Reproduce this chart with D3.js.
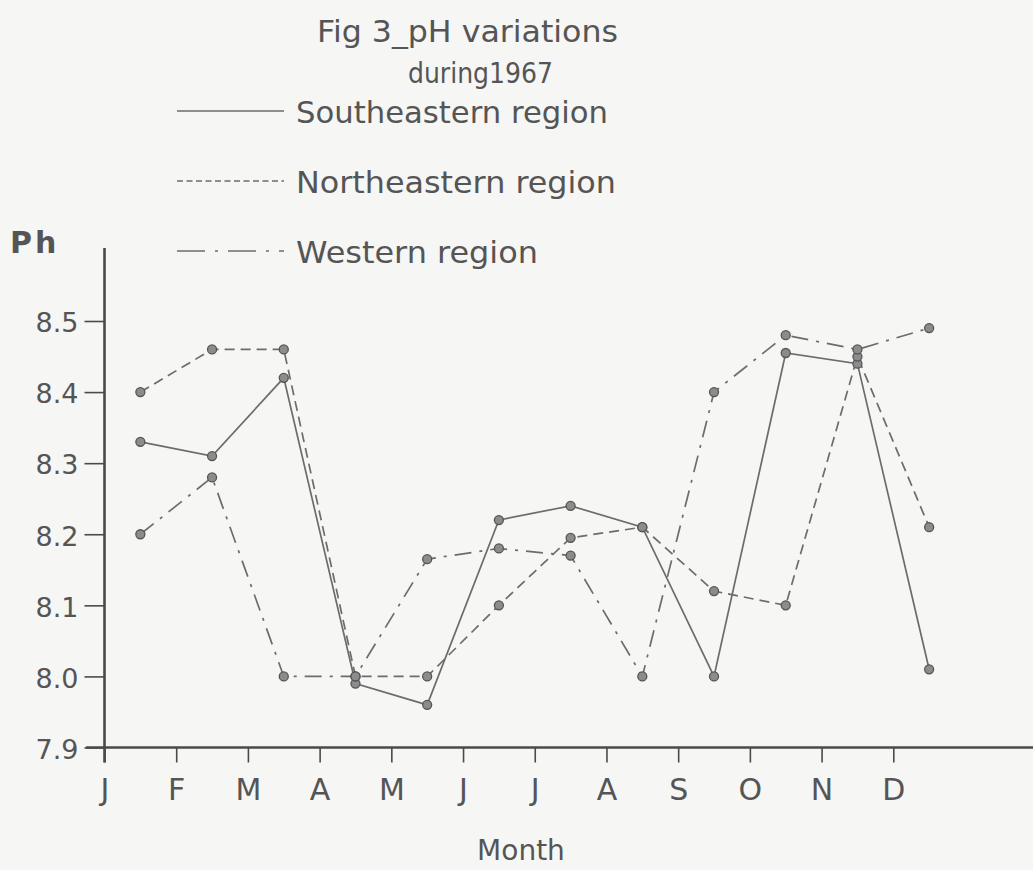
<!DOCTYPE html>
<html>
<head>
<meta charset="utf-8">
<script src="https://cdn.jsdelivr.net/npm/d3@7"></script>
<style>
  html, body { margin: 0; padding: 0; background: #f6f6f4; }
  svg { display: block; }
  text { font-family: "DejaVu Sans", sans-serif; fill: #555; }
</style>
</head>
<body>
<svg id="chart" width="1033" height="870"></svg>
<script>
// Monthly pH readings for 1967, one array per region
const months = ["J", "F", "M", "A", "M", "J", "J", "A", "S", "O", "N", "D"];
const southeastern = [8.33, 8.31, 8.42, 7.99, 7.96, 8.22, 8.24, 8.21, 8.00, 8.455, 8.44, 8.01];
const northeastern = [8.40, 8.46, 8.46, 8.00, 8.00, 8.10, 8.195, 8.21, 8.12, 8.10, 8.45, 8.21];
const western      = [8.20, 8.28, 8.00, 8.00, 8.165, 8.18, 8.17, 8.00, 8.40, 8.48, 8.46, 8.49];
const yTicks = [7.9, 8.0, 8.1, 8.2, 8.3, 8.4, 8.5];

const seriesList = [
  { name: "Southeastern region", values: southeastern, dash: null,          legendDash: null },
  { name: "Northeastern region", values: northeastern, dash: "10,6",        legendDash: "6,3.5" },
  { name: "Western region",      values: western,      dash: "17,8,3,8",    legendDash: "28,10,3,10" }
];

const svg = d3.select("#chart");
const ink = "#4a4a4a";
const lineInk = "#6c6c6c";

// Month index scale: ticks sit on month boundaries, readings at mid-month
const x = d3.scaleLinear().domain([0, 12]).range([104.5, 965]);
const y = d3.scaleLinear().domain([7.9, 8.5]).range([747.5, 321]);

// Title
svg.append("text").attr("x", 317).attr("y", 42)
  .attr("font-size", 30).attr("textLength", 301).attr("lengthAdjust", "spacingAndGlyphs")
  .text("Fig 3_pH variations");
svg.append("text").attr("x", 408).attr("y", 83)
  .attr("font-size", 28).attr("textLength", 145).attr("lengthAdjust", "spacingAndGlyphs")
  .text("during1967");

// Legend
const legendRows = [
  { baseline: 123, width: 312 },
  { baseline: 193, width: 320 },
  { baseline: 263, width: 242 }
];
seriesList.forEach((s, i) => {
  const row = legendRows[i];
  svg.append("line")
    .attr("x1", 177).attr("x2", 284)
    .attr("y1", row.baseline - 12).attr("y2", row.baseline - 12)
    .attr("stroke", lineInk).attr("stroke-width", 1.6)
    .attr("stroke-dasharray", s.legendDash);
  svg.append("text").attr("x", 296).attr("y", row.baseline)
    .attr("font-size", 30).attr("textLength", row.width).attr("lengthAdjust", "spacingAndGlyphs")
    .text(s.name);
});

// Y axis
const yAxis = svg.append("g").attr("transform", `translate(${x(0)},0)`)
  .call(d3.axisLeft(y).tickValues(yTicks).tickSize(20).tickPadding(6).tickFormat(d3.format(".1f")));
yAxis.select(".domain").remove();
yAxis.selectAll(".tick line").attr("stroke", ink).attr("stroke-width", 1.6);
yAxis.selectAll(".tick text")
  .attr("font-size", 27).attr("font-family", "DejaVu Sans, sans-serif")
  .attr("fill", "#4f4f4f").attr("dy", "0.4em");
svg.append("line")
  .attr("x1", x(0)).attr("x2", x(0)).attr("y1", 248).attr("y2", y(7.9) + 15)
  .attr("stroke", ink).attr("stroke-width", 2.6);

// X axis
const xAxis = svg.append("g").attr("transform", `translate(0,${y(7.9)})`)
  .call(d3.axisBottom(x).tickValues(d3.range(12)).tickSize(15).tickFormat(i => months[i]));
xAxis.select(".domain").remove();
xAxis.selectAll(".tick line").attr("stroke", ink).attr("stroke-width", 1.6);
xAxis.selectAll(".tick text")
  .attr("font-size", 30).attr("font-family", "DejaVu Sans, sans-serif")
  .attr("fill", "#555").attr("y", 52).attr("dy", 0);
svg.append("line")
  .attr("x1", 86).attr("x2", 1033).attr("y1", y(7.9)).attr("y2", y(7.9))
  .attr("stroke", ink).attr("stroke-width", 2.6);

// Axis titles
svg.append("text").attr("x", 10).attr("y", 253)
  .attr("font-size", 30).attr("font-weight", "bold").attr("letter-spacing", 3)
  .attr("fill", "#474747")
  .text("Ph");
svg.append("text").attr("x", 521).attr("y", 860).attr("text-anchor", "middle")
  .attr("font-size", 28).text("Month");

// Series lines and markers
const line = d3.line().x((d, i) => x(i + 0.5)).y(d => y(d));
seriesList.forEach(s => {
  svg.append("path").datum(s.values)
    .attr("d", line)
    .attr("fill", "none")
    .attr("stroke", lineInk)
    .attr("stroke-width", 1.7)
    .attr("stroke-dasharray", s.dash);
});
seriesList.forEach(s => {
  svg.append("g").selectAll("circle").data(s.values).join("circle")
    .attr("cx", (d, i) => x(i + 0.5))
    .attr("cy", d => y(d))
    .attr("r", 4.5)
    .attr("fill", "#8c8c8c")
    .attr("stroke", "#555")
    .attr("stroke-width", 1.3);
});
</script>
</body>
</html>
